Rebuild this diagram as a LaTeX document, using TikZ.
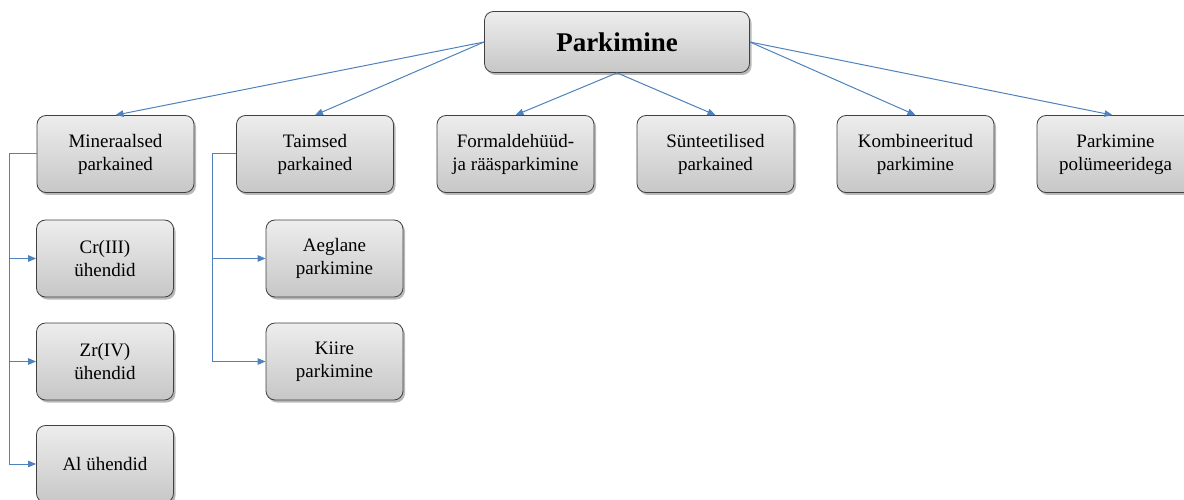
\documentclass[tikz,border=0pt]{standalone}
\usepackage{fontspec}
\setmainfont{Liberation Serif}
\usetikzlibrary{arrows.meta,%
                shadows}
\definecolor{linkblue}{RGB}{79,129,189}

\begin{document}
\begin{tikzpicture}[x=1pt,y=-1pt]
  \useasboundingbox (0,0) rectangle (1184,500);

  \tikzstyle{Box}=[draw=black!75, line width=0.8pt, rounded corners=9pt,
    top color=black!7, bottom color=black!22,
    drop shadow={shadow xshift=2pt, shadow yshift=-2.5pt, opacity=0.55},
    minimum width=157pt, minimum height=77pt, inner sep=1pt,
    align=center, font=\fontsize{19}{23}\selectfont]
  \tikzstyle{SubBox}=[Box, minimum width=137pt]
  \tikzstyle{Link}=[draw=linkblue, line width=1pt,
    -{Triangle[length=8pt,width=6.5pt]}]

  \node[Box, minimum width=265pt, minimum height=61pt,
        font=\fontsize{27}{30}\selectfont\bfseries] (park) at (617,42) {Parkimine};

  \node[Box] (miner) at (115.5,154) {Mineraalsed\\parkained};
  \node[Box] (taim)  at (315,154)   {Taimsed\\parkained};
  \node[Box] (form)  at (515.5,154) {Formaldehüüd-\\ja rääsparkimine};
  \node[Box] (synt)  at (715.5,154) {Sünteetilised\\parkained};
  \node[Box] (komb)  at (915.5,154) {Kombineeritud\\parkimine};
  \node[Box] (polym) at (1115.5,154) {Parkimine\\polümeeridega};

  \node[SubBox] (cr) at (105,258.5) {Cr(III)\\ühendid};
  \node[SubBox] (zr) at (105,361.5) {Zr(IV)\\ühendid};
  \node[SubBox] (al) at (105,464)   {Al ühendid};

  \node[SubBox] (aegl)  at (334.5,258.5) {Aeglane\\parkimine};
  \node[SubBox] (kiire) at (334.5,361.5) {Kiire\\parkimine};

  \draw[Link] (park.west) -- (miner.north);
  \draw[Link] (park.west) -- (taim.north);
  \draw[Link] (park.south) -- (form.north);
  \draw[Link] (park.south) -- (synt.north);
  \draw[Link] (park.east) -- (komb.north);
  \draw[Link] (park.east) -- ([xshift=-3pt]polym.north);

  \draw[Link] (miner.west) -- ++(-27,0) |- (cr);
  \draw[Link] (miner.west) -- ++(-27,0) |- (zr);
  \draw[Link] (miner.west) -- ++(-27,0) |- (al);

  \draw[Link] (taim.west) -- ++(-24,0) |- (aegl);
  \draw[Link] (taim.west) -- ++(-24,0) |- (kiire);
\end{tikzpicture}
\end{document}
